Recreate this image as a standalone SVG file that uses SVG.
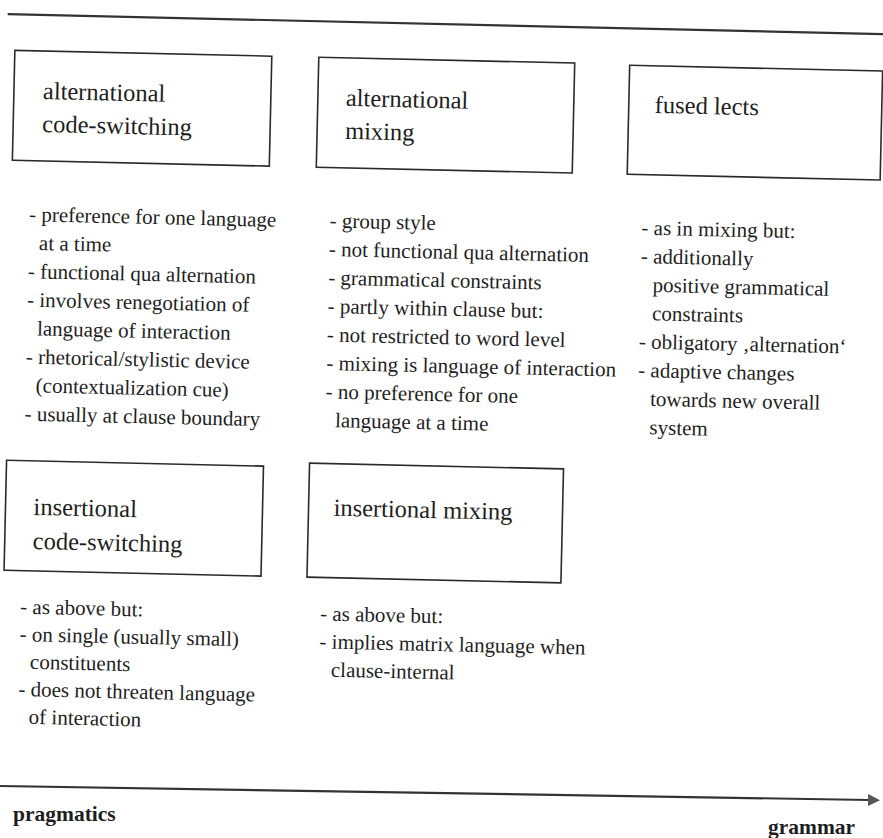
<svg xmlns="http://www.w3.org/2000/svg" width="883" height="838" viewBox="0 0 883 838">
  <defs>
    <marker id="head" viewBox="0 0 12 12" refX="2" refY="6" markerWidth="12" markerHeight="12" markerUnits="userSpaceOnUse" orient="auto">
      <path d="M0,0 L12,6 L0,12 Z" fill="#555"/>
    </marker>
  </defs>
  <style>
    text { font-family: "Liberation Serif", Tinos, "DejaVu Serif", serif; fill: #1e1e1e; }
    .box { fill: #fff; stroke: #2a2a2a; stroke-width: 1.6; }
    .title { font-size: 24.5px; }
    .item { font-size: 21px; }
    .rule { stroke: #333; stroke-width: 2.2; fill: none; }
    .axis-label { font-size: 21.5px; font-weight: bold; }
  </style>
  <rect width="883" height="838" fill="#fff"/>

  <!-- the whole page is set slightly tilted -->
  <g transform="rotate(1.3)">
    <line class="rule" x1="8" y1="14" x2="890" y2="14"/>

    <g id="alternational-code-switching">
      <rect class="box" x="16" y="50" width="257" height="110"/>
      <text class="title" x="45" y="98">alternational</text>
      <text class="title" x="45" y="131">code-switching</text>
      <text class="item" x="34" y="220.5">- preference for one language</text>
      <text class="item" x="44.5" y="249">at a time</text>
      <text class="item" x="34" y="277.5">- functional qua alternation</text>
      <text class="item" x="34" y="306">- involves renegotiation of</text>
      <text class="item" x="44.5" y="334.5">language of interaction</text>
      <text class="item" x="34" y="363">- rhetorical/stylistic device</text>
      <text class="item" x="44.5" y="391.5">(contextualization cue)</text>
      <text class="item" x="34" y="420">- usually at clause boundary</text>
    </g>

    <g id="alternational-mixing">
      <rect class="box" x="320" y="50" width="256" height="110"/>
      <text class="title" x="348" y="98">alternational</text>
      <text class="title" x="348" y="131">mixing</text>
      <text class="item" x="334.5" y="220">- group style</text>
      <text class="item" x="334.5" y="248.5">- not functional qua alternation</text>
      <text class="item" x="334.5" y="277">- grammatical constraints</text>
      <text class="item" x="334.5" y="305.5">- partly within clause but:</text>
      <text class="item" x="334.5" y="334">- not restricted to word level</text>
      <text class="item" x="334.5" y="362.5">- mixing is language of interaction</text>
      <text class="item" x="334.5" y="391">- no preference for one</text>
      <text class="item" x="344.5" y="419.5">language at a time</text>
    </g>

    <g id="fused-lects">
      <rect class="box" x="631" y="51" width="253" height="109"/>
      <text class="title" x="657" y="98">fused lects</text>
      <text class="item" x="646.5" y="220">- as in mixing but:</text>
      <text class="item" x="646.5" y="248.5">- additionally</text>
      <text class="item" x="659" y="277">positive grammatical</text>
      <text class="item" x="659" y="305.5">constraints</text>
      <text class="item" x="646.5" y="334">- obligatory ‚alternation‘</text>
      <text class="item" x="646.5" y="362.5">- adaptive changes</text>
      <text class="item" x="659" y="391">towards new overall</text>
      <text class="item" x="659" y="419.5">system</text>
    </g>

    <g id="insertional-code-switching">
      <rect class="box" x="17" y="460" width="257" height="110"/>
      <text class="title" x="45" y="514">insertional</text>
      <text class="title" x="45" y="548">code-switching</text>
      <text class="item" x="34" y="613">- as above but:</text>
      <text class="item" x="34" y="640.5">- on single (usually small)</text>
      <text class="item" x="45" y="668">constituents</text>
      <text class="item" x="34" y="695.5">- does not threaten language</text>
      <text class="item" x="45" y="723">of interaction</text>
    </g>

    <g id="insertional-mixing">
      <rect class="box" x="320" y="456" width="254" height="114"/>
      <text class="title" x="345" y="508">insertional mixing</text>
      <text class="item" x="334" y="613">- as above but:</text>
      <text class="item" x="334" y="641">- implies matrix language when</text>
      <text class="item" x="346" y="669">clause-internal</text>
    </g>
  </g>

  <!-- scale from pragmatics to grammar -->
  <g id="connectors">
    <line class="rule" x1="0" y1="786" x2="870" y2="800" marker-end="url(#head)"/>
  </g>
  <text class="axis-label" x="13" y="821">pragmatics</text>
  <text class="axis-label" x="768" y="834">grammar</text>
</svg>
